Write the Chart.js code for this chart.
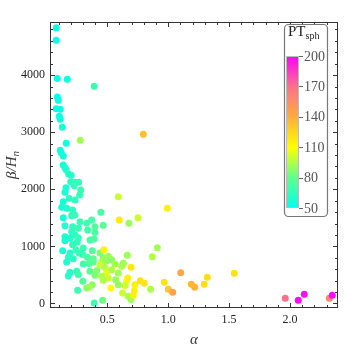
<!DOCTYPE html>
<html>
<head>
<meta charset="utf-8">
<script src="https://cdn.jsdelivr.net/npm/chart.js@4.4.1/dist/chart.umd.min.js"></script>
<style>
body{margin:0;background:#fff}
#wrap{width:360px;height:351px}
</style>
</head>
<body>
<div id="wrap"><canvas id="myChart" width="360" height="351"></canvas></div>
<script>
// alpha, beta/H_n and PT_sph
const alpha = [
0.081,0.081,0.090,0.172,0.393,0.090,0.098,0.081,0.114,0.106,0.114,0.131,0.796,0.278,0.163,0.114,0.122,0.139,0.139,0.153,
0.163,0.183,0.204,0.200,0.235,0.265,0.161,0.229,0.282,0.153,0.273,0.186,0.235,0.139,0.590,0.126,0.167,0.216,0.448,0.208,
0.139,0.235,0.276,0.372,0.599,0.752,0.678,0.153,0.216,0.331,0.467,0.399,0.262,0.339,0.153,0.235,0.262,0.399,0.358,0.391,
0.194,0.153,0.216,0.254,0.134,0.194,0.243,0.303,0.377,0.440,0.473,0.180,0.221,0.298,0.336,0.385,0.467,0.508,0.664,0.167,
0.303,0.385,0.454,0.495,0.536,0.440,0.481,0.563,0.618,0.695,0.249,0.194,0.358,0.413,0.495,0.536,0.590,0.180,0.399,0.454,
0.508,0.569,0.667,0.300,0.377,0.467,0.659,0.590,0.645,0.727,0.331,0.352,0.257,0.530,0.626,0.672,0.695,0.713,0.462,0.393,
0.771,0.911,0.870,0.632,0.804,0.722,0.856,0.968,1.001,1.037,1.103,0.993,1.543,1.321,1.190,1.218,1.296,1.961,2.068,2.117,
2.323,2.347,0.208,0.268,0.350,0.262
];
const beta = [
4830,4610,3940,3926,3803,3616,3558,3411,3400,3278,3226,3085,2963,2858,2805,2683,2641,2583,2425,2378,
2343,2268,2245,2133,2122,2122,2027,2062,1987,1947,1900,1842,1812,1783,1870,1684,1667,1637,1597,1537,
1502,1550,1432,1462,1462,1502,1404,1362,1345,1404,1369,1345,1317,1287,1170,1199,1152,1247,1111,1129,
1142,1100,1030,1077,925,884,942,972,925,884,942,809,784,855,809,784,797,827,844,727,
692,727,727,749,767,669,634,692,651,634,564,546,564,574,552,592,534,487,494,476,
447,417,447,389,329,406,389,329,312,329,271,284,231,271,184,126,67,144,56,9,
399,977,819,704,354,224,249,371,249,196,539,1667,529,459,336,284,336,91,56,161,
91,144,1257,884,700,508
];
const ptSph = [
52,52,52,55,68,52,53,52,54,54,55,58,133,92,55,54,55,56,58,60,
60,62,62,64,64,66,58,66,68,57,68,62,64,57,100,57,60,64,72,65,
58,66,68,72,118,100,90,60,66,70,78,75,68,70,58,64,66,74,72,74,
62,58,64,66,58,62,66,68,75,85,115,62,64,70,72,78,88,92,92,60,
70,80,95,90,88,100,95,92,95,118,66,62,78,88,105,95,92,62,85,95,
100,90,115,75,88,95,112,90,100,115,88,92,70,110,100,95,92,115,82,68,
120,92,95,92,120,115,95,120,130,145,142,115,120,122,135,138,122,170,198,196,
158,198,64,66,75,70
];

const xTicks = [0.5, 1.0, 1.5, 2.0];
const yTicks = [0, 1000, 2000, 3000, 4000];
const ptTicks = [50, 80, 110, 140, 170, 200];
const ptColors = [[0,255,238],[95,255,140],[255,255,0],[255,172,60],[255,112,140],[255,0,255]];

function colorFor(v) {
  const lo = ptTicks[0], step = ptTicks[1] - ptTicks[0];
  let t = (v - lo) / step;
  t = Math.max(0, Math.min(ptTicks.length - 1, t));
  const i = Math.min(Math.floor(t), ptTicks.length - 2);
  const f = t - i;
  const a = ptColors[i], b = ptColors[i + 1];
  const c = a.map((q, k) => Math.round(q + (b[k] - q) * f));
  return 'rgb(' + c.join(',') + ')';
}

const SERIF = '"Liberation Serif", "DejaVu Serif", serif';

const framePlugin = {
  id: 'framePlugin',
  afterDraw(chart) {
    const ctx = chart.ctx;
    const a = chart.chartArea;
    const x = chart.scales.x, y = chart.scales.y;
    ctx.save();
    ctx.strokeStyle = '#333';
    ctx.lineWidth = 1;
    ctx.strokeRect(a.left + 0.5, a.top + 0.5, a.right - a.left - 1, a.bottom - a.top - 1);
    ctx.beginPath();
    for (let i = 1; i <= 23; i++) {
      const v = i / 10;
      const len = i % 5 === 0 ? 5 : 3;
      const p = Math.round(x.getPixelForValue(v)) + 0.5;
      ctx.moveTo(p, a.bottom); ctx.lineTo(p, a.bottom - len);
      ctx.moveTo(p, a.top); ctx.lineTo(p, a.top + len);
    }
    for (let i = 0; i <= 24; i++) {
      const v = i * 200;
      const len = i % 5 === 0 ? 5 : 3;
      const p = Math.round(y.getPixelForValue(v)) + 0.5;
      ctx.moveTo(a.left, p); ctx.lineTo(a.left + len, p);
      ctx.moveTo(a.right, p); ctx.lineTo(a.right - len, p);
    }
    ctx.stroke();

    // axis titles
    ctx.fillStyle = '#333';
    ctx.font = 'italic 15px ' + SERIF;
    ctx.textAlign = 'center';
    ctx.textBaseline = 'alphabetic';
    ctx.fillText('\u03B1', (a.left + a.right) / 2, 344);

    ctx.save();
    ctx.translate(16, (a.top + a.bottom) / 2);
    ctx.rotate(-Math.PI / 2);
    ctx.font = 'italic 15px ' + SERIF;
    const main = '\u03B2/H';
    const w1 = ctx.measureText(main).width;
    ctx.font = 'italic 11px ' + SERIF;
    const w2 = ctx.measureText('n').width;
    ctx.textAlign = 'left';
    const sx = -(w1 + w2) / 2;
    ctx.font = 'italic 15px ' + SERIF;
    ctx.fillText(main, sx, 0);
    ctx.font = 'italic 11px ' + SERIF;
    ctx.fillText('n', sx + w1, 3);
    ctx.restore();

    // colour bar legend
    const bx = 284.5, by = 24.5, bw = 43, bh = 192;
    ctx.beginPath();
    ctx.roundRect(bx, by, bw, bh, 4);
    ctx.fillStyle = '#fff';
    ctx.fill();
    ctx.strokeStyle = '#777';
    ctx.lineWidth = 1.2;
    ctx.stroke();

    const barL = 286, barR = 299, barTop = 56, barBot = 208;
    const pix = v => barBot - (v - ptTicks[0]) / (ptTicks[ptTicks.length - 1] - ptTicks[0]) * (barBot - barTop);
    const g = ctx.createLinearGradient(0, barBot, 0, barTop);
    ptTicks.forEach((v, i) => g.addColorStop(i / (ptTicks.length - 1), colorFor(v)));
    ctx.fillStyle = g;
    ctx.fillRect(barL, barTop, barR - barL, barBot - barTop);
    ctx.strokeStyle = '#bbb';
    ctx.lineWidth = 1;
    ctx.strokeRect(barL + 0.5, barTop + 0.5, barR - barL - 1, barBot - barTop - 1);

    ctx.strokeStyle = '#666';
    ctx.beginPath();
    ptTicks.forEach(v => {
      const p = Math.round(pix(v)) + 0.5;
      ctx.moveTo(barR, p); ctx.lineTo(barR + 4, p);
    });
    ctx.stroke();
    ctx.fillStyle = '#555';
    ctx.font = '14px ' + SERIF;
    ctx.textAlign = 'left';
    ctx.textBaseline = 'middle';
    ptTicks.forEach(v => ctx.fillText(String(v), barR + 5, pix(v) + 1));

    ctx.fillStyle = '#222';
    ctx.textBaseline = 'alphabetic';
    ctx.font = '15px ' + SERIF;
    ctx.fillText('PT', 288, 36);
    const pw = ctx.measureText('PT').width;
    ctx.font = '10px ' + SERIF;
    ctx.fillText('sph', 288 + pw, 39);
    ctx.restore();
  }
};

const points = alpha.map((a, i) => ({x: a, y: beta[i]}));

const ctx = document.getElementById('myChart').getContext('2d');
const myChart = new Chart(ctx, {
  type: 'scatter',
  data: {
    datasets: [{
      data: points,
      pointBackgroundColor: ptSph.map(colorFor),
      pointBorderWidth: 0,
      pointRadius: 3.5,
      pointHoverRadius: 3.5
    }]
  },
  options: {
    responsive: false,
    animation: false,
    devicePixelRatio: 1,
    layout: {padding: {top: 22, right: 22, left: 0, bottom: 0}},
    plugins: {legend: {display: false}, tooltip: {enabled: false}},
    scales: {
      x: {
        type: 'linear',
        min: 0.03,
        max: 2.394,
        afterBuildTicks: s => { s.ticks = xTicks.map(v => ({value: v})); },
        afterFit: s => { s.height = 43; },
        grid: {display: false, drawTicks: false},
        border: {display: false},
        ticks: {
          padding: 5,
          autoSkip: false,
          maxRotation: 0,
          color: '#222',
          font: {family: SERIF, size: 12},
          callback: v => Number(v).toFixed(1)
        }
      },
      y: {
        type: 'linear',
        min: -80,
        max: 4930,
        afterBuildTicks: s => { s.ticks = yTicks.map(v => ({value: v})); },
        afterFit: s => { s.width = 50; },
        grid: {display: false, drawTicks: false},
        border: {display: false},
        ticks: {
          padding: 5,
          color: '#222',
          font: {family: SERIF, size: 12},
          callback: v => String(v)
        }
      }
    }
  },
  plugins: [framePlugin]
});
</script>
</body>
</html>
